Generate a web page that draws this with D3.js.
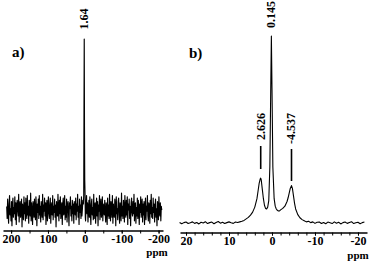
<!DOCTYPE html>
<meta charset="utf-8">
<style>
    body { margin: 0; background: #fff; }
    svg { display: block; }
    text { font-family: "Liberation Serif", "Times New Roman", serif; font-weight: bold; fill: #000; }
    .axis text { font-size: 12px; }
    .axis .domain { stroke: #000; stroke-width: 1.5px; }
    .axis line { stroke: #000; stroke-width: 1px; }
    .trace { fill: none; stroke: #000; stroke-linejoin: round; }
</style>
<svg id="chart" width="372" height="262"></svg>
<script src="https://cdn.jsdelivr.net/npm/d3@7"></script>
<script>

    // panel a) - wide sweep, one sharp line on a noisy baseline
    var aNoiseStart = 212, aNoiseStep = 1.3;   // sampling of the digitised noise (ppm)
    var aNoiseLeft = [
        3,-7,9,-2,-11,5,12,-4,1,-9,7,-13,4,10,-6,2,-3,11,-8,6,
        -12,4,8,-1,-5,13,-10,3,7,-6,0,9,-14,5,2,-8,11,-3,6,-9,
        10,-2,-7,12,-4,3,-11,8,1,-5,14,-9,6,-1,-12,7,4,-6,9,-3,
        -8,11,2,-13,5,-2,9,-7,12,-4,3,-10,7,1,-6,13,-8,4,-1,10,
        -5,6,-12,3,8,-9,2,11,-3,-7,5,10,-11,1,6,-4,12,-8,3,-2,
        9,-6,4,-14,7,2,-5,13,-1,-9,8,-3,11,-7,0,6,-12,5,10,-4,
        -1,12,-8,3,-6,9,-10,4,7,-2,-13,6,1,11,-5,3,-9,8,-3,5,
        -11,7,2,-4,10,-8,5,-1,13,-6,3,-12,9,-2,4,-7,11,-5,1,8
    ];
    var aPeakPpm = [4.0, 3.0, 2.3, 1.64, 1.0, 0.3, -0.5, -1.3];
    var aPeakInt = [5, 12, 84, 142, 70, 25, 14, -6];
    var aNoiseRightStart = -2.0;
    var aNoiseRight = [
        -9,4,12,-3,6,-10,1,8,-6,11,-2,-12,5,9,-4,2,-8,13,-7,3,
        6,-11,0,10,-5,7,-13,4,-1,12,-8,3,9,-6,-2,11,-9,5,1,-4,
        8,-3,-10,6,2,-12,10,-5,4,-7,13,-1,-9,7,3,-6,12,-11,5,-2,
        -6,9,4,-13,11,-3,1,-8,7,10,-4,-11,6,2,-9,14,-5,3,-7,8,
        2,-10,12,-1,-6,8,-4,11,-12,5,0,9,-7,3,-13,6,10,-2,-5,7,
        -3,13,-9,4,6,-11,2,-5,10,-7,8,1,-12,5,-2,11,-6,3,9,-10,
        5,-4,7,-12,1,10,-8,3,-1,12,-5,-9,6,4,-11,8,-3,13,-6,2,
        -7,10,-2,5,-10,3,9,-6,1,-13,7,4,-8,11,-1,-5,6,-9,3,0
    ];
    var aMajorTicks = [200, 100, 0, -100, -200];
    var aMinorTicks = [200, 150, 100, 50, 0, -50, -100, -150, -200];

    // panel b) - narrow sweep, three resolved lines
    var bPpm = [21.5,21,20.5,20,19.5,19,18.5,18,17.5,17,16.5,16,15.5,15,14.5,14,13.5,13,12.5,12,
        11.5,11,10.5,10,9.5,9,8.5,8,7.5,7,6.5,6,5.5,5,4.5,4,3.5,3.25,3,2.75,2.626,2.5,2.25,2,1.75,
        1.5,1.25,1,0.75,0.5,0.3,0.145,0,-0.2,-0.5,-0.75,-1,-1.25,-1.5,-1.75,-2,-2.5,-3,-3.5,-3.75,
        -4,-4.25,-4.537,-4.75,-5,-5.25,-5.5,-6,-6.5,-7,-7.5,-8,-8.5,-9,-9.5,-10,-10.5,-11,-11.5,
        -12,-12.5,-13,-13.5,-14,-14.5,-15,-15.5,-16,-16.5,-17,-17.5,-18,-18.5,-19,-19.5,-20,-20.5,-21,-21.5];
    var bInt = [0.3,-0.4,0.2,0.5,-0.3,0.1,0.6,-0.2,0.3,-0.5,0.4,0.0,0.7,-0.3,0.2,0.5,-0.4,0.3,0.8,-0.1,
        0.4,-0.3,0.2,0.6,0.1,-0.2,0.5,0.3,0.6,0.9,1.4,2.2,3.0,4.2,5.8,8.5,13,17,21,23.5,24,23,18,13,9.5,
        7.8,7.5,8.5,12,30,70,100,72,30,13,9,7.5,6.8,6.4,6.5,7,7.8,9,11.5,13.5,
        16,18.5,20,18.5,14.5,10.5,7.5,4.5,2.8,1.8,1.2,0.6,0.9,0.2,0.6,-0.2,0.4,0.5,-0.3,
        0.3,-0.4,0.5,0.1,-0.3,0.6,-0.1,0.4,-0.5,0.2,0.5,-0.2,0.3,0.7,-0.3,0.1,0.4,-0.4,0.2,0.5];
    var bMajorTicks = [20, 10, 0, -10, -20];
    var bMinorTicks = d3.range(20, -22, -2);

    var peakLabelsA = [{ppm: 1.64, text: "1.64", y: 19}];
    var peakLabelsB = [
        {ppm: 0.145, text: "0.145", y: 14.5},
        {ppm: 2.626, text: "2.626", y: 126.5, tick: [146, 169]},
        {ppm: -4.537, text: "-4.537", y: 128.5, tick: [149, 181]}
    ];

    var svg = d3.select("#chart");

    // ---- panel a ----
    var aData = [];
    aNoiseLeft.forEach(function (v, i) { aData.push([aNoiseStart - i * aNoiseStep, v]); });
    aPeakPpm.forEach(function (p, i) { aData.push([p, aPeakInt[i]]); });
    aNoiseRight.forEach(function (v, i) { aData.push([aNoiseRightStart - i * aNoiseStep, v]); });

    var xa = d3.scaleLinear().domain([222, -212]).range([3, 163]);
    var ya = d3.scaleLinear().domain([0, 142]).range([210, 39]);

    svg.append("path")
        .datum(aData)
        .attr("class", "trace")
        .attr("stroke-width", 1.15)
        .attr("d", d3.line().x(function (d) { return xa(d[0]); }).y(function (d) { return ya(d[1]); }));

    drawAxis(xa, 230.5, aMajorTicks, aMinorTicks);
    svg.append("text").attr("x", 157).attr("y", 256).attr("text-anchor", "middle")
        .style("font-size", "11px").text("ppm");
    svg.append("text").attr("x", 12).attr("y", 57).style("font-size", "15px").text("a)");

    peakLabelsA.forEach(function (d) { peakLabel(xa, d); });

    // ---- panel b ----
    var xb = d3.scaleLinear().domain([21.4, -22.1]).range([180, 367]);
    var yb = d3.scaleLinear().domain([0, 100]).range([223, 36]);

    svg.append("path")
        .datum(d3.zip(bPpm, bInt))
        .attr("class", "trace")
        .attr("stroke-width", 1.1)
        .attr("d", d3.line().x(function (d) { return xb(d[0]); }).y(function (d) { return yb(d[1]); }));

    drawAxis(xb, 232.5, bMajorTicks, bMinorTicks);
    svg.append("text").attr("x", 358).attr("y", 259).attr("text-anchor", "middle")
        .style("font-size", "11px").text("ppm");
    svg.append("text").attr("x", 189).attr("y", 58).style("font-size", "15px").text("b)");

    peakLabelsB.forEach(function (d) {
        peakLabel(xb, d);
        if (d.tick) {
            svg.append("line")
                .attr("x1", xb(d.ppm)).attr("x2", xb(d.ppm))
                .attr("y1", d.tick[0]).attr("y2", d.tick[1])
                .attr("stroke", "#000").attr("stroke-width", 1.6);
        }
    });

    function drawAxis(x, y, major, minor) {
        svg.append("g")
            .attr("class", "axis")
            .attr("transform", "translate(0," + y + ")")
            .call(d3.axisBottom(x).tickValues(minor).tickSize(3).tickSizeOuter(0).tickFormat(""));
        var g = svg.append("g")
            .attr("class", "axis")
            .attr("transform", "translate(0," + y + ")")
            .call(d3.axisBottom(x).tickValues(major).tickSize(3).tickSizeOuter(0).tickPadding(1)
                .tickFormat(function (d) { return String(d); }));
        g.select(".domain").remove();
        g.selectAll("text").attr("fill", "#000");
    }

    function peakLabel(x, d) {
        svg.append("text")
            .attr("transform", "translate(" + (x(d.ppm) + 4) + "," + d.y + ") rotate(-90)")
            .attr("text-anchor", "middle")
            .style("font-size", "12px")
            .text(d.text);
    }
</script>
